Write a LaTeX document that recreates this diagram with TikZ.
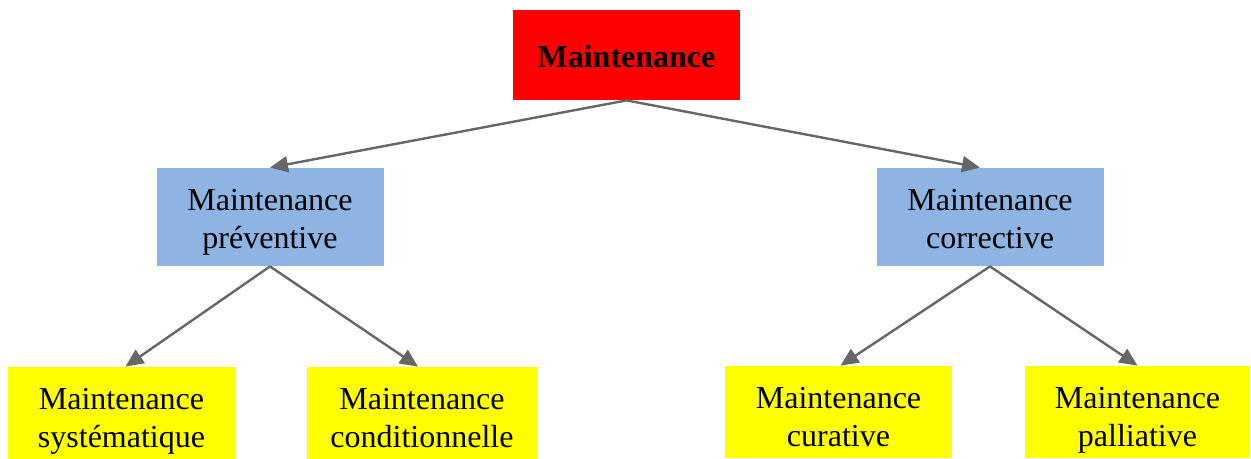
\documentclass[tikz,border=0pt]{standalone}
\usepackage{fontspec}
\setmainfont{Liberation Serif}
\usetikzlibrary{arrows.meta}
\definecolor{topred}{HTML}{FF0000}
\definecolor{midblue}{HTML}{8EB4E3}
\definecolor{leafyellow}{HTML}{FFFF00}
\definecolor{linegray}{HTML}{666666}
\begin{document}
\begin{tikzpicture}
            [x=0.5pt, y=-0.5pt,
            main node/.style={rectangle, inner sep=0pt, align=center, minimum width=113.5pt,
                font=\fontsize{16}{19}\selectfont},
            top node/.style={main node, fill=topred, minimum height=45pt, text height=12.6pt, text depth=0pt,
                font=\fontsize{16}{19}\selectfont\bfseries},
            mid node/.style={main node, fill=midblue, minimum height=49pt, text height=33pt, text depth=1.8pt},
            leaf node/.style={main node, fill=leafyellow, minimum height=46pt, text height=36pt, text depth=1.8pt},
            link/.style={draw=linegray, line width=1.2pt, -{Triangle[width=8pt,length=9pt]}}]
            \useasboundingbox (0,0) rectangle (1251,459);
            \node[top node] (m) at (626.5,55) {Maintenance};
            \node[mid node] (p) at (270,217) {Maintenance\\préventive};
            \node[mid node] (c) at (990,217) {Maintenance\\corrective};
            \node[leaf node] (ps) at (121.5,413) {Maintenance\\systématique};
            \node[leaf node, minimum width=115pt] (pc) at (422,413) {Maintenance\\conditionnelle};
            \node[leaf node] (cc) at (838.5,412) {Maintenance\\curative};
            \node[leaf node, minimum width=112.5pt] (cp) at (1137.5,412) {Maintenance\\palliative};

            \draw[link] (m.south) -- ([xshift=0pt]p.north);
            \draw[link] (m.south) -- ([xshift=-5pt]c.north);

            \draw[link] (p.south) -- ([xshift=2pt]ps.north);
            \draw[link] (p.south) -- ([xshift=-2pt]pc.north);

            \draw[link] (c.south) -- ([xshift=1pt]cc.north);
            \draw[link] (c.south) -- (cp.north);
         \end{tikzpicture}
\end{document}
